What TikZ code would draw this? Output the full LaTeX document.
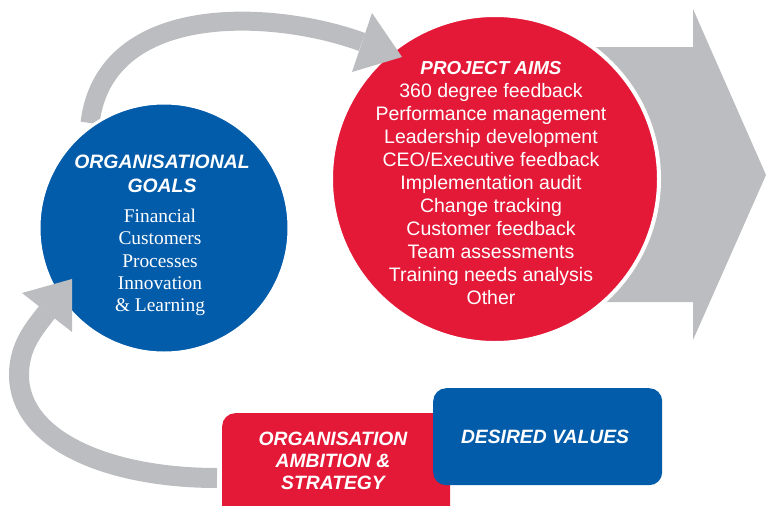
\documentclass[tikz,border=0pt]{standalone}
\usepackage{fontspec}
\newfontfamily\sansA{Liberation Sans}
\newfontfamily\serifA{Liberation Serif}
\definecolor{cred}{RGB}{227,25,55}
\definecolor{cblue}{RGB}{2,92,170}
\definecolor{cgray}{RGB}{188,189,192}
\begin{document}
\begin{tikzpicture}[x=1pt,y=-1pt,
  band/.style={draw=cgray, line width=19pt},
  headg/.style={fill=cgray},
  bigcirc/.style={circle, inner sep=0pt},
  boxr/.style={rounded corners=13pt, inner sep=0pt, anchor=north west},
  title/.style={text=white, align=center, inner sep=0pt, font=\sansA\bfseries\itshape\fontsize{19.3}{22}\selectfont},
  plain/.style={text=white, align=center, inner sep=0pt, font=\sansA\fontsize{19.5}{23}\selectfont},
  serifl/.style={text=white, align=center, inner sep=0pt, font=\serifA\fontsize{19.4}{22.3}\selectfont}
]
\useasboundingbox (0,0) rectangle (766,506);
% big gray arrow
\fill[cgray] (590,47) -- (693,47) -- (693,9) -- (766,175) -- (693,340) -- (693,302) -- (590,302) -- cycle;
% red circle
\node[bigcirc, fill=cred, draw=white, line width=4pt, minimum size=328pt] (aims) at (495,179) {};
% top curved arrow
\coordinate (t0) at (90,123);
\coordinate (t1) at (362,42);
\draw[band] (t0) .. controls (105,0) and (275,10) .. (t1);
\fill[headg] (372,13) -- (402,57) -- (352,72) -- cycle;
% blue circle
\node[bigcirc, fill=cblue, draw=white, line width=3pt, minimum size=250pt] (goals) at (164,228) {};
% bottom curved arrow
\coordinate (b0) at (217,478);
\coordinate (bm) at (19,375);
\coordinate (b1) at (47,312);
\draw[band, line width=20pt] (b0) .. controls (108,478) and (19,440) .. (bm) .. controls (19,345) and (35,328) .. (b1);
\fill[headg] (22,293) -- (72,279) -- (72,332) -- cycle;
% boxes
\node[boxr, fill=cred, minimum width=228pt, minimum height=115pt] (ambition) at (222,413) {};
\node[boxr, fill=cblue, minimum width=229pt, minimum height=97pt] (values) at (433,388) {};
% texts
\node[title] (ambtxt) at (333,461) {ORGANISATION\\AMBITION \&\\STRATEGY};
\node[title] (valtxt) at (545,437) {DESIRED VALUES};
\node[title, font=\sansA\bfseries\itshape\fontsize{19.4}{24}\selectfont] (goaltitle) at (162,174) {ORGANISATIONAL\\GOALS};
\node[serifl] (goallist) at (160,262.5) {Financial\\Customers\\Processes\\Innovation\\\& Learning};
\node[plain] (aimslist) at (491,183.5) {{\bfseries\itshape\fontsize{18.8}{23}\selectfont PROJECT AIMS}\\360 degree feedback\\Performance management\\Leadership development\\CEO/Executive feedback\\Implementation audit\\Change tracking\\Customer feedback\\Team assessments\\Training needs analysis\\Other};
\end{tikzpicture}
\end{document}
